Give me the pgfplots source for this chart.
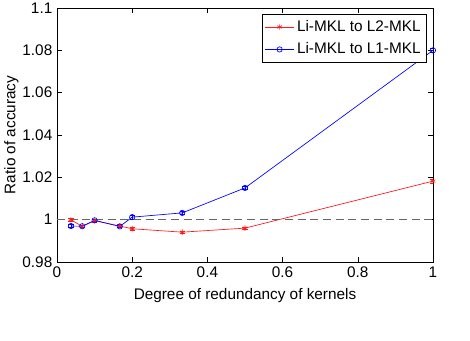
\documentclass[border=0pt]{standalone}
\usepackage{fontspec}
\setmainfont{Liberation Sans}
\usepackage{pgfplots}
\pgfplotsset{compat=1.18}

\begin{document}
\begin{tikzpicture}
  \useasboundingbox (0pt,0pt) rectangle (352.5pt,255pt);
  \begin{axis}[
    at={(42.75pt,58.5pt)}, anchor=south west,
    scale only axis,
    width=282pt, height=190.5pt,
    xmin=0, xmax=1, ymin=0.98, ymax=1.1,
    xtick={0,0.2,...,1},
    ytick={0.98,1,1.02,1.04,1.06,1.08,1.1},
    tick align=inside,
    tick style={black, line width=0.4pt},
    major tick length=4pt,
    axis line style={line width=0.6pt},
    ticklabel style={font=\fontsize{11.5}{12}\selectfont},
    /pgf/number format/assume math mode=true,
    xlabel={Degree of redundancy of kernels},
    ylabel={Ratio of accuracy},
    label style={font=\fontsize{11.5}{12}\selectfont},
    xlabel style={yshift=-1pt},
    ylabel style={yshift=-4pt},
    legend style={at={(rel axis cs:0.982,0.976)}, anchor=north east,
      font=\fontsize{11.5}{13}\selectfont, draw=black, line width=0.5pt,
      inner xsep=2pt, inner ysep=2.5pt, row sep=3pt},
    legend cell align=left,
    legend image code/.code={
      \draw[mark repeat=2, mark phase=2]
        plot coordinates {(0cm,0cm) (0.38cm,0cm) (0.76cm,0cm)};
    },
    error bars/error bar style={line width=0.4pt},
    error bars/error mark options={rotate=90, mark size=2pt, line width=0.4pt},
  ]
    \addplot[red!90!white, line width=0.5pt, mark=asterisk, mark size=2pt,
      error bars/.cd, y dir=both, y explicit]
      coordinates {
        (0.037,1.0000) +- (0,0.0006)
        (0.067,0.9968) +- (0,0.0006)
        (0.1,0.9995) +- (0,0.0006)
        (0.167,0.9970) +- (0,0.0006)
        (0.2,0.9957) +- (0,0.0006)
        (0.333,0.9941) +- (0,0.0006)
        (0.5,0.9960) +- (0,0.0006)
        (1,1.0182) +- (0,0.0010)
      };
    \addlegendentry{Li-MKL to L2-MKL}
    \addplot[blue, line width=0.5pt, mark=o, mark size=2pt,
      error bars/.cd, y dir=both, y explicit]
      coordinates {
        (0.037,0.9970) +- (0,0.0006)
        (0.067,0.9969) +- (0,0.0006)
        (0.1,0.9997) +- (0,0.0006)
        (0.167,0.9968) +- (0,0.0006)
        (0.2,1.0012) +- (0,0.0008)
        (0.333,1.0032) +- (0,0.0007)
        (0.5,1.0150) +- (0,0.0008)
        (1,1.0800) +- (0,0.0010)
      };
    \addlegendentry{Li-MKL to L1-MKL}
    \addplot[gray!80!black, dash pattern=on 6pt off 3.5pt, line width=0.7pt, forget plot]
      coordinates {(0,1) (1,1)};
  \end{axis}
\end{tikzpicture}
\end{document}
